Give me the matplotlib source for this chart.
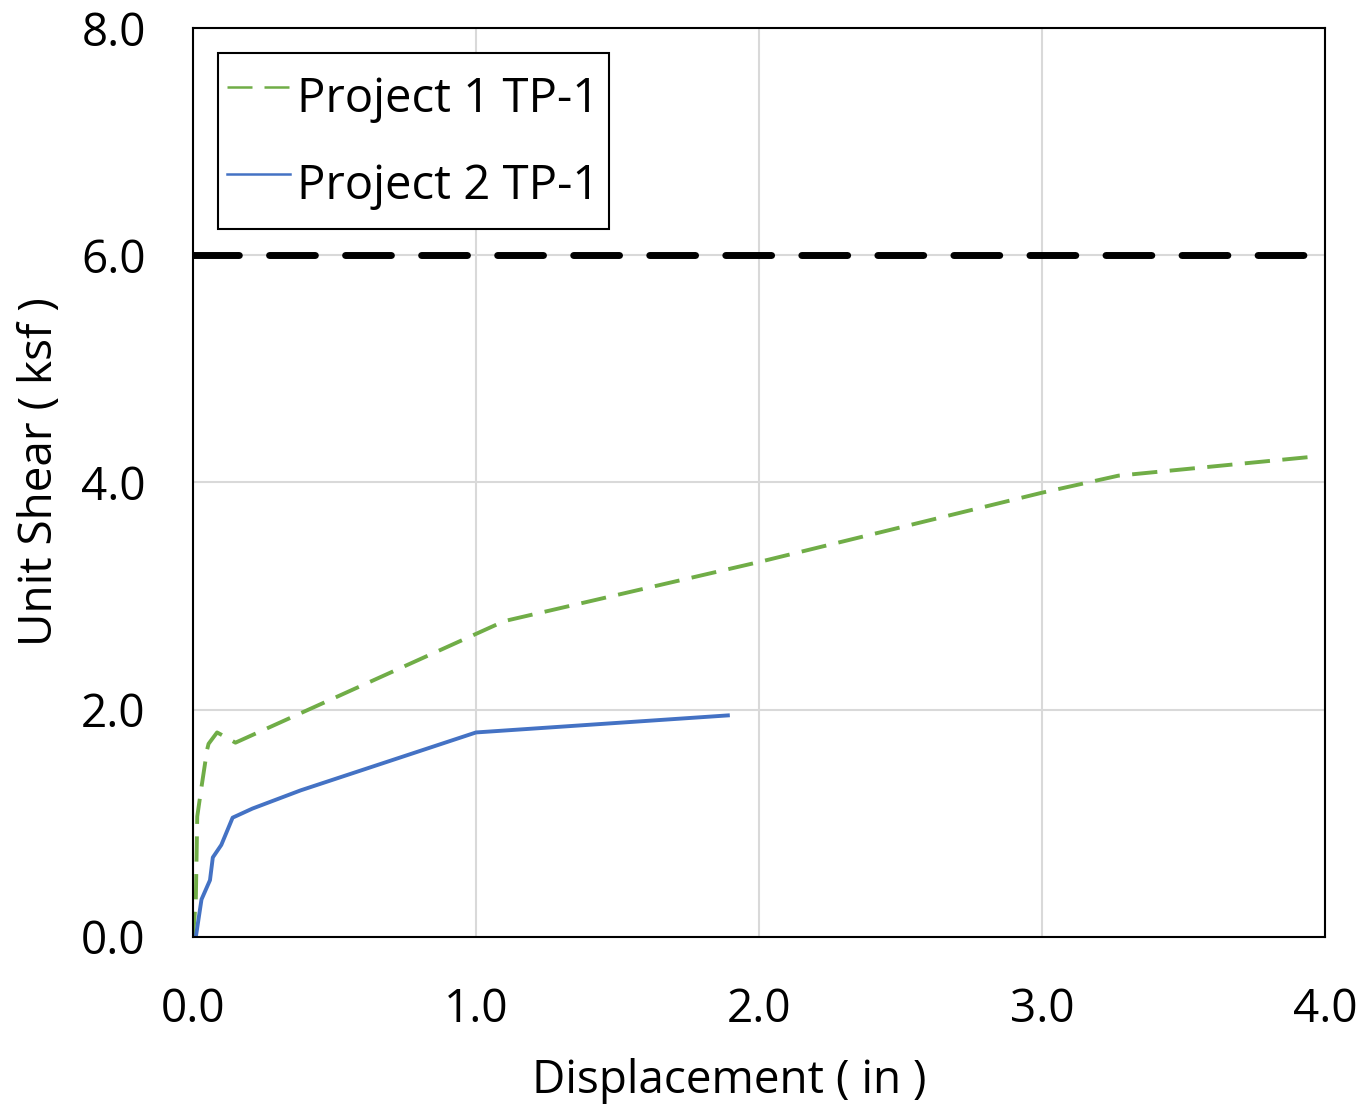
import matplotlib
matplotlib.use("Agg")
import matplotlib.pyplot as plt

plt.rcParams['font.family'] = ['Open Sans', 'DejaVu Sans']

# Project 1 TP-1 (green dashed)
p1_disp = [0.0, 0.01, 0.015, 0.03, 0.05, 0.055, 0.085, 0.10, 0.15, 1.1, 2.0, 3.0, 3.27, 3.97]
p1_shear = [0.0, 0.33, 1.06, 1.32, 1.65, 1.70, 1.80, 1.78, 1.71, 2.78, 3.30, 3.91, 4.06, 4.23]

# Project 2 TP-1 (blue solid)
p2_disp = [0.01, 0.03, 0.06, 0.07, 0.10, 0.14, 0.21, 0.38, 1.0, 1.89]
p2_shear = [0.0, 0.33, 0.50, 0.70, 0.81, 1.05, 1.13, 1.29, 1.80, 1.95]

limit_shear = 6.0

xticks = [0.0, 1.0, 2.0, 3.0, 4.0]
yticks = [0.0, 2.0, 4.0, 6.0, 8.0]

fig = plt.figure(figsize=(13.64, 11.07), dpi=100)
ax = fig.add_axes([0.1415, 0.1536, 0.8299, 0.8211])

ax.plot(p1_disp, p1_shear, color='#70AD47', lw=2.8, dashes=(6.5, 3.2), label='Project 1 TP-1')
ax.plot(p2_disp, p2_shear, color='#4472C4', lw=2.8, label='Project 2 TP-1')
ax.axhline(limit_shear, color='black', lw=5, dashes=(6.6, 4.35), dash_capstyle='round')

ax.set_xlim(0, 4)
ax.set_ylim(0, 8)
ax.set_xticks(xticks)
ax.set_yticks(yticks)
ax.set_xticklabels([f'{v:.1f}' for v in xticks])
ax.set_yticklabels([f'{v:.1f}' for v in yticks])
ax.tick_params(length=0, labelsize=33)
ax.tick_params(axis='x', pad=36)
ax.tick_params(axis='y', pad=34)
ax.grid(True, color='#d9d9d9', lw=1.5)
ax.set_axisbelow(True)
for s in ax.spines.values():
    s.set_linewidth(1.5)
    s.set_color('black')

ax.set_xlabel('Displacement ( in )', fontsize=33, va='center')
ax.xaxis.set_label_coords(0.4735, -0.158)
ax.set_ylabel('Unit Shear ( ksf )', fontsize=33, va='center')
ax.yaxis.set_label_coords(-0.135, 0.5115)

leg = ax.legend(loc='upper left', bbox_to_anchor=(0.022, 0.973), fontsize=34,
                fancybox=False, framealpha=1, edgecolor='black',
                handlelength=1.33, handletextpad=0.15, handleheight=1.9,
                labelspacing=0.37, borderpad=0.2, borderaxespad=0)
leg.get_frame().set_linewidth(1.5)
leg_lines = leg.get_lines()
leg_lines[0].set_linewidth(1.8)
leg_lines[0].set_dashes((10, 4.8))
leg_lines[1].set_linewidth(1.8)

fig.savefig('out.png', dpi=100)
